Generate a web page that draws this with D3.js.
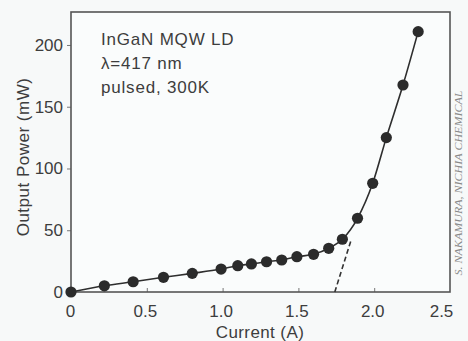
<!DOCTYPE html>
<html><head><meta charset="utf-8">
<script src="https://cdn.jsdelivr.net/npm/d3@7"></script>
<style>
html,body{margin:0;padding:0;background:#f7f9f9;}
svg{display:block;}
</style></head>
<body>
<svg id="chart" width="468" height="341"></svg>
<script>
const current = [0, 0.22, 0.41, 0.61, 0.8, 0.99, 1.1, 1.19, 1.29, 1.39, 1.49, 1.6, 1.7, 1.79, 1.89, 1.99, 2.08, 2.19, 2.29];
const power   = [0, 5, 8.3, 11.9, 15.1, 18.6, 21.3, 22.7, 24.5, 25.9, 28.6, 30.5, 35.4, 42.7, 59.7, 88, 125, 167.6, 210.8];
const thresholdCurrent = [1.74, 1.85];
const thresholdPower = [0, 43];
const xTicks = [0, 0.5, 1.0, 1.5, 2.0, 2.5];
const xTickLabels = ["0", "0.5", "1.0", "1.5", "2.0", "2.5"];
const yTicks = [0, 50, 100, 150, 200];
const annotation = ["InGaN MQW LD", "\u03bb=417 nm", "pulsed, 300K"];
const credit = "S. NAKAMURA, NICHIA CHEMICAL";

const svg = d3.select("#chart");
const L = 71, R = 450, T = 12, B = 292;
const x = d3.scaleLinear().domain([0, 2.5]).range([L, R]);
const y = d3.scaleLinear().domain([0, 226.7]).range([B, T]);
const font = "'Liberation Sans', Arial, Helvetica, sans-serif";
const txt = "#3d3d3d";

svg.append("rect").attr("width", 468).attr("height", 341).attr("fill", "#f7f9f9");
svg.append("rect").attr("x", L).attr("y", T).attr("width", R - L).attr("height", B - T)
  .attr("fill", "#fafcfc");

// x axis (inward ticks)
const xAxis = svg.append("g").attr("transform", `translate(0,${B})`)
  .call(d3.axisBottom(x).tickValues(xTicks).tickFormat((d, i) => xTickLabels[i]).tickSize(-4).tickPadding(13));
xAxis.select(".domain").remove();
xAxis.selectAll(".tick line").attr("stroke", "#777").attr("stroke-width", 1)
  .filter((d) => d === 0 || d === 2.5).remove();
xAxis.selectAll(".tick text").attr("font-family", font).attr("font-size", 17).attr("fill", txt)
  .attr("dx", (d) => d === 2.5 ? -9 : (d === 0 ? -1 : -2));

// y axis (outward ticks)
const yAxis = svg.append("g").attr("transform", `translate(${L},0)`)
  .call(d3.axisLeft(y).tickValues(yTicks).tickFormat(d3.format("d")).tickSize(4).tickPadding(4));
yAxis.select(".domain").remove();
yAxis.selectAll(".tick line").attr("stroke", "#777").attr("stroke-width", 1);
yAxis.selectAll(".tick text").attr("font-family", font).attr("font-size", 17).attr("fill", txt);

// frame
svg.append("rect").attr("x", L).attr("y", T).attr("width", R - L).attr("height", B - T)
  .attr("fill", "none").attr("stroke", "#555").attr("stroke-width", 1.6);

// threshold extrapolation
svg.append("path")
  .datum(thresholdCurrent.map((c, i) => [c, thresholdPower[i]]))
  .attr("d", d3.line().x(d => x(d[0])).y(d => y(d[1])))
  .attr("fill", "none").attr("stroke", "#333").attr("stroke-width", 1.6)
  .attr("stroke-dasharray", "5,3");

// L-I curve
const pts = current.map((c, i) => [c, power[i]]);
svg.append("path").datum(pts)
  .attr("d", d3.line().x(d => x(d[0])).y(d => y(d[1])).curve(d3.curveMonotoneX))
  .attr("fill", "none").attr("stroke", "#2e2e2e").attr("stroke-width", 1.6);

svg.append("g").selectAll("circle").data(pts).join("circle")
  .attr("cx", d => x(d[0])).attr("cy", d => y(d[1])).attr("r", 5.6)
  .attr("fill", "#2b2b2b");

// annotation
svg.append("g").selectAll("text").data(annotation).join("text")
  .attr("x", 101).attr("y", (d, i) => 45 + i * 24)
  .attr("font-family", font).attr("font-size", 17).attr("letter-spacing", 0.8)
  .attr("fill", txt).text(d => d);

// axis titles
svg.append("text").attr("x", 260).attr("y", 338).attr("text-anchor", "middle")
  .attr("font-family", font).attr("font-size", 17).attr("letter-spacing", 0.4)
  .attr("fill", txt).text("Current (A)");
svg.append("text").attr("transform", "translate(29,157) rotate(-90)").attr("text-anchor", "middle")
  .attr("font-family", font).attr("font-size", 17).attr("letter-spacing", 0.5)
  .attr("fill", txt).text("Output Power (mW)");

// credit
svg.append("text").attr("transform", "translate(462,183) rotate(-90)").attr("text-anchor", "middle")
  .attr("font-family", "'Liberation Serif', 'DejaVu Serif', serif").attr("font-style", "italic")
  .attr("font-size", 10.5).attr("fill", "#8a8a8a")
  .attr("textLength", 185).attr("lengthAdjust", "spacingAndGlyphs").text(credit);
</script>
</body></html>
